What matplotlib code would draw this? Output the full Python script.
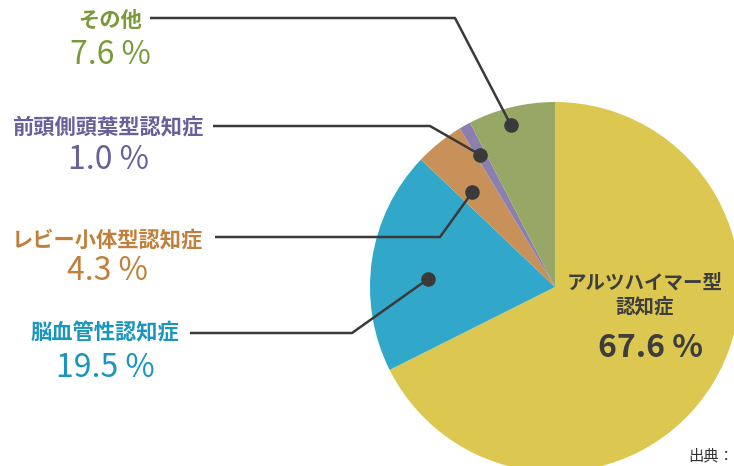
import numpy as np
import matplotlib
matplotlib.use('Agg')
import matplotlib.pyplot as plt

plt.rcParams['font.family'] = ['Noto Sans CJK JP', 'DejaVu Sans']

# data
labels = ['アルツハイマー型\n認知症', '脳血管性認知症', 'レビー小体型認知症', '前頭側頭葉型認知症', 'その他']
values = [67.6, 19.5, 4.3, 1.0, 7.6]
colors = ['#dcc850', '#31a8ca', '#c8915a', '#8a7fae', '#97a866']
text_colors = ['#3d3d3d', '#1a96be', '#c07f3a', '#6a5f9a', '#7a9a3a']

W, H = 734, 466
fig = plt.figure(figsize=(W / 100, H / 100), dpi=100)
ax = fig.add_axes([0, 0, 1, 1])

cx, cy, R = 555, H - 287, 185
wedges, _ = ax.pie(values, colors=colors, startangle=90, counterclock=False,
                   center=(cx, cy), radius=R,
                   wedgeprops=dict(linewidth=0))
ax.set_xlim(0, W)
ax.set_ylim(0, H)
ax.set_aspect('equal')
ax.axis('off')

# leader lines: (dot radius fraction, angle shift, elbow x, elbow y, line start x, label x, label y, pct y)
leaders = {
    1: (0.69, 5.0, 352, 333, 190, 105, 333, 368),
    2: (0.68, 2.4, 440, 237, 215, 107, 240, 271),
    3: (0.82, 0.3, 430, 126, 213, 108, 127, 160),
    4: (0.91, 1.6, 455, 18, 150, 110, 20, 55),
}
line_col = '#3a3a3a'
for i, (rf, shift, ex, ey, sx, lx, ly, py) in leaders.items():
    w = wedges[i]
    mid = np.deg2rad((w.theta1 + w.theta2) / 2 + shift)
    dx = cx + rf * R * np.cos(mid)
    dy = cy + rf * R * np.sin(mid)
    ax.plot([sx, ex, dx], [H - ey, H - ey, dy], color=line_col, lw=1.8,
            solid_capstyle='butt', zorder=3)
    ax.scatter([dx], [dy], s=110, color=line_col, zorder=4, linewidths=0)
    ax.text(lx, H - ly, labels[i], color=text_colors[i], fontsize=15.3,
            fontweight='bold', ha='center', va='center')
    ax.text(lx, H - py, f'{values[i]:.1f} %', color=text_colors[i], fontsize=23,
            ha='center', va='center')

# main slice label
ax.text(645, H - 295, labels[0], color=text_colors[0], fontsize=14,
        fontweight='bold', ha='center', va='center', linespacing=1.35)
ax.text(650, H - 348, f'{values[0]:.1f} %', color=text_colors[0], fontsize=23,
        fontweight='bold', ha='center', va='center')

ax.text(688, H - 456, '出典：', color='#333333', fontsize=11, ha='left', va='center')

fig.savefig('out.png', dpi=100)
